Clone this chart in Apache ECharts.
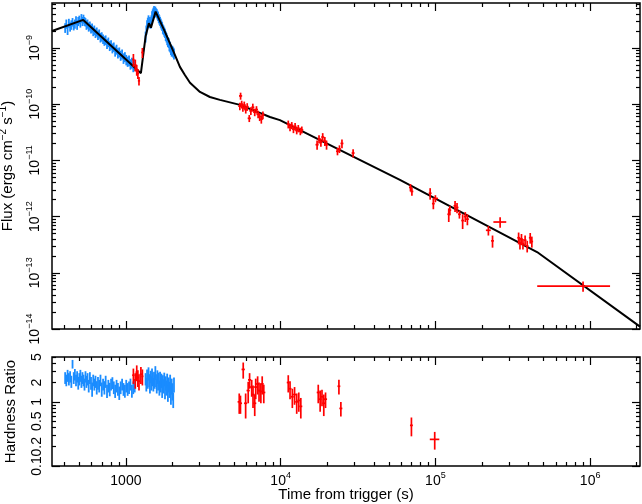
<!DOCTYPE html>
<html>
<head>
<meta charset="utf-8">
<script src="https://cdn.jsdelivr.net/npm/echarts@6/dist/echarts.min.js"></script>
<style>
  html, body { margin: 0; padding: 0; background: #fff; }
  #chart { width: 642px; height: 504px; }
</style>
</head>
<body>
<div id="chart"></div>
<script>
// light curve (top) + hardness ratio (bottom)
const FONT = 'Liberation Sans, Arial, Helvetica, sans-serif'
const BLUE = '#1a8cff'
const RED = '#ff0000'

const X_MIN = 333, X_MAX = 2.1e6
const FLUX_MIN = 1e-14, FLUX_MAX = 6.3e-9
const HR_MIN = 0.1, HR_MAX = 5

// ticks / labels
const X_MAJOR = [1e3, 1e4, 1e5, 1e6]
const X_DECADES = [100, 1e3, 1e4, 1e5, 1e6]
const FLUX_MAJOR = [1e-14, 1e-13, 1e-12, 1e-11, 1e-10, 1e-9]
const HR_MAJOR = [0.1, 1]
const HR_MINOR = [0.2, 0.3, 0.4, 0.5, 0.6, 0.7, 0.8, 0.9, 2, 3, 4, 5]
const HR_LABELS = [0.1, 0.2, 0.5, 1, 2, 5]
const MINOR_MULT = [2, 3, 4, 5, 6, 7, 8, 9]

// model (black line): time (s), flux (erg cm^-2 s^-1)
const MODEL_T = [333, 530, 1250, 1340, 1408, 1452, 1556, 1786, 2073, 2234, 2405, 2595, 3010, 3490, 4050, 5460, 8530, 9890, 59000, 454000, 2100000]
const MODEL_FLUX = [2.0e-9, 3.15e-9, 3.55e-10, 1.59e-9, 2.75e-9, 2.3e-9, 4.42e-9, 1.95e-9, 7.5e-10, 4.6e-10, 3.3e-10, 2.4e-10, 1.65e-10, 1.34e-10, 1.19e-10, 9.7e-11, 5.9e-11, 5.2e-11, 4.5e-12, 2.34e-13, 1.1e-14]

// WT mode (blue): time (s), flux and error in units of 1e-9, hardness ratio and error
const BLUE_T = [405, 412, 420, 428, 436, 444, 452, 460, 468, 476, 484, 492, 500, 508, 516, 524, 532, 540, 548, 556,
  565, 575, 585, 595, 605, 615, 625, 636, 648, 660, 672, 685, 698, 712, 726, 740, 755, 770, 786, 802,
  818, 835, 852, 870, 888, 906, 925, 945, 965, 985, 1005, 1026, 1048, 1070, 1093, 1116, 1140,
  1340, 1355, 1370, 1385, 1400, 1415, 1430, 1445, 1460, 1475, 1490, 1505, 1520, 1535, 1550, 1566, 1582, 1598, 1614, 1630,
  1646, 1663, 1680, 1697, 1715, 1733, 1751, 1770, 1789, 1808, 1828, 1848, 1868, 1889, 1910, 1932, 1954, 1976, 1999, 2022, 2045]
const BLUE_FLUX = [2.3, 2.7, 2.1, 2.8, 2.4, 2.6, 2.9, 2.5, 2.7, 3.1, 2.6, 3.0, 3.2, 2.8, 3.4, 3.0, 3.3, 3.0, 2.9, 2.6,
  2.7, 2.4, 2.5, 2.2, 2.3, 2.0, 2.1, 1.85, 1.95, 1.7, 1.8, 1.55, 1.6, 1.45, 1.35, 1.4, 1.2, 1.28, 1.1, 1.15,
  1.0, 1.05, 0.88, 0.95, 0.82, 0.85, 0.74, 0.78, 0.66, 0.7, 0.62, 0.58, 0.6, 0.52, 0.55, 0.47, 0.5,
  1.6, 2.1, 2.6, 2.9, 3.2, 2.8, 3.0, 2.7, 3.2, 3.8, 4.1, 4.4, 4.7, 4.3, 4.6, 4.3, 4.2, 3.9, 3.7, 3.4,
  3.2, 3.0, 2.8, 2.6, 2.45, 2.2, 2.1, 1.95, 1.85, 1.65, 1.55, 1.4, 1.3, 1.25, 1.1, 1.05, 0.95, 0.9, 0.9, 0.85, 0.8]
const BLUE_FLUX_ERR = [0.45, 0.5, 0.4, 0.5, 0.45, 0.5, 0.5, 0.45, 0.5, 0.55, 0.5, 0.55, 0.55, 0.5, 0.6, 0.55, 0.6, 0.55, 0.5, 0.5,
  0.5, 0.45, 0.45, 0.4, 0.42, 0.38, 0.4, 0.35, 0.36, 0.32, 0.33, 0.3, 0.3, 0.28, 0.26, 0.27, 0.24, 0.25, 0.22, 0.22,
  0.2, 0.2, 0.18, 0.19, 0.17, 0.17, 0.15, 0.16, 0.14, 0.14, 0.13, 0.12, 0.13, 0.11, 0.12, 0.1, 0.11,
  0.35, 0.4, 0.5, 0.55, 0.6, 0.55, 0.55, 0.5, 0.6, 0.7, 0.75, 0.8, 0.85, 0.8, 0.85, 0.8, 0.75, 0.7, 0.68, 0.62,
  0.6, 0.55, 0.52, 0.48, 0.45, 0.42, 0.4, 0.37, 0.35, 0.32, 0.3, 0.28, 0.26, 0.25, 0.23, 0.22, 0.2, 0.2, 0.19, 0.18, 0.18]
const BLUE_HR = [2.4, 2.2, 2.6, 2.3, 2.5, 2.1, 3.9, 2.4, 2.7, 2.2, 2.5, 2.0, 2.3, 2.6, 2.1, 2.4, 2.2, 1.9, 2.5, 2.1,
  2.3, 1.8, 2.4, 2.0, 1.6, 2.2, 1.9, 2.1, 1.7, 2.0, 1.8, 2.2, 1.6, 1.9, 1.7, 2.1, 1.5, 1.8, 1.6, 1.9,
  2.0, 1.7, 1.5, 1.8, 1.6, 1.4, 1.7, 1.9, 1.6, 1.5, 1.8, 1.6, 1.7, 1.9, 1.5, 1.7, 1.8,
  2.3, 1.9, 2.6, 2.1, 2.8, 2.2, 1.8, 2.5, 2.0, 2.7, 2.3, 1.9, 2.4, 2.1, 2.9, 2.2, 1.8, 2.5, 2.0, 2.3,
  1.7, 2.4, 1.9, 2.2, 1.6, 2.1, 1.8, 2.3, 1.5, 2.0, 1.7, 2.2, 1.4, 1.9, 1.6, 2.1, 1.3, 1.8, 1.5, 1.1, 1.9]
const BLUE_HR_ERR = [0.5, 0.45, 0.55, 0.5, 0.5, 0.45, 0.6, 0.5, 0.55, 0.45, 0.5, 0.45, 0.5, 0.55, 0.45, 0.5, 0.45, 0.4, 0.5, 0.45,
  0.5, 0.4, 0.5, 0.45, 0.4, 0.45, 0.4, 0.45, 0.4, 0.45, 0.4, 0.45, 0.4, 0.4, 0.4, 0.45, 0.35, 0.4, 0.38, 0.4,
  0.42, 0.38, 0.35, 0.4, 0.36, 0.33, 0.38, 0.4, 0.36, 0.34, 0.4, 0.36, 0.38, 0.4, 0.34, 0.38, 0.4,
  0.5, 0.45, 0.6, 0.5, 0.65, 0.5, 0.45, 0.55, 0.5, 0.6, 0.55, 0.45, 0.55, 0.5, 0.7, 0.5, 0.45, 0.6, 0.5, 0.55,
  0.45, 0.55, 0.5, 0.55, 0.45, 0.5, 0.45, 0.55, 0.4, 0.5, 0.45, 0.55, 0.4, 0.5, 0.45, 0.55, 0.4, 0.5, 0.45, 0.3, 0.5]

// PC mode (red): [time, time err, flux, flux err]
const RED_FLUX = [
  [1118, 20, 6.2e-10, 1.6e-10], [1150, 20, 5.0e-10, 1.2e-10], [1175, 20, 4.1e-10, 0.9e-10], [1195, 20, 3.5e-10, 0.7e-10],
  [1215, 20, 2.6e-10, 0.45e-10], [1278, 20, 8.3e-10, 1.7e-10],
  [5450, 130, 9.2e-11, 1.4e-11], [5510, 130, 1.4e-10, 2.0e-11], [5600, 130, 1.0e-10, 1.5e-11], [5700, 130, 8.6e-11, 1.3e-11],
  [5820, 140, 9.6e-11, 1.5e-11], [5950, 140, 8.0e-11, 1.2e-11], [6080, 140, 9.0e-11, 1.4e-11], [6270, 150, 5.6e-11, 0.8e-11],
  [6420, 150, 7.6e-11, 1.2e-11], [6610, 150, 8.8e-11, 1.4e-11], [6800, 160, 7.2e-11, 1.1e-11], [6980, 160, 8.0e-11, 1.2e-11],
  [7150, 170, 6.6e-11, 1.0e-11], [7320, 170, 6.0e-11, 1.0e-11], [7500, 170, 5.4e-11, 0.9e-11], [7680, 180, 6.4e-11, 1.0e-11],
  [11200, 250, 4.4e-11, 0.7e-11], [11500, 250, 3.9e-11, 0.6e-11], [11800, 260, 4.2e-11, 0.6e-11], [12100, 270, 3.6e-11, 0.55e-11],
  [12400, 280, 4.0e-11, 0.6e-11], [12700, 280, 3.4e-11, 0.5e-11], [13000, 290, 3.7e-11, 0.55e-11], [13400, 300, 3.3e-11, 0.5e-11],
  [13700, 300, 3.5e-11, 0.5e-11],
  [17200, 400, 1.9e-11, 0.35e-11], [17700, 400, 2.4e-11, 0.4e-11], [18200, 400, 2.1e-11, 0.35e-11], [18700, 420, 2.6e-11, 0.45e-11],
  [19300, 430, 2.2e-11, 0.4e-11], [19800, 450, 1.9e-11, 0.35e-11],
  [23300, 500, 1.45e-11, 0.22e-11], [24000, 500, 1.6e-11, 0.25e-11], [24900, 550, 2.0e-11, 0.35e-11], [29400, 650, 1.35e-11, 0.22e-11],
  [69000, 1500, 3.3e-12, 0.5e-12], [70500, 1500, 2.8e-12, 0.45e-12],
  [92500, 2000, 2.6e-12, 0.6e-12], [97000, 2000, 1.7e-12, 0.35e-12], [100000, 4000, 2.1e-12, 0.3e-12],
  [122000, 2500, 1.1e-12, 0.3e-12], [124000, 2500, 1.3e-12, 0.25e-12], [134000, 3000, 1.55e-12, 0.35e-12], [138000, 3000, 1.45e-12, 0.3e-12],
  [143000, 3000, 1.1e-12, 0.18e-12], [150000, 3000, 8.5e-13, 0.25e-12], [156000, 3500, 1.0e-12, 0.2e-12], [161000, 3500, 9.0e-13, 0.2e-12],
  [220000, 8000, 5.7e-13, 1.1e-13], [234000, 5000, 3.7e-13, 0.9e-13], [262000, 25000, 8.0e-13, 1.7e-13],
  [345000, 7000, 4.2e-13, 1.0e-13], [352000, 7000, 3.4e-13, 0.8e-13], [360000, 7000, 4.0e-13, 0.9e-13], [368000, 7000, 3.3e-13, 0.7e-13],
  [380000, 8000, 3.8e-13, 0.8e-13], [392000, 8000, 3.0e-13, 0.7e-13], [410000, 8000, 4.2e-13, 0.9e-13], [420000, 8000, 3.6e-13, 0.8e-13],
  [900000, 445000, 5.8e-14, 1.2e-14]
]

// PC mode (red): [time, time err, hardness ratio, err]
const RED_HR = [
  [1118, 20, 2.6, 0.7], [1150, 20, 2.2, 0.6], [1175, 20, 2.9, 0.8], [1195, 20, 2.4, 0.7], [1215, 20, 2.1, 0.6],
  [1250, 20, 2.7, 0.8], [1278, 20, 2.5, 0.7],
  [5400, 130, 1.0, 0.35], [5500, 130, 0.95, 0.3], [5730, 140, 3.2, 0.9], [5940, 140, 0.95, 0.4], [6170, 150, 1.5, 0.55],
  [6300, 150, 2.2, 0.6], [6500, 150, 1.7, 0.5], [6630, 160, 1.3, 0.5], [6800, 160, 0.95, 0.35], [6900, 160, 1.7, 0.6],
  [7100, 170, 1.9, 0.6], [7250, 170, 1.5, 0.5], [7450, 170, 1.45, 0.5], [7600, 180, 1.9, 0.6], [7780, 180, 1.4, 0.45],
  [11200, 250, 2.0, 0.6], [11500, 250, 1.6, 0.5], [11900, 260, 1.2, 0.4], [12300, 270, 1.3, 0.4], [12700, 280, 1.0, 0.35],
  [13100, 290, 1.05, 0.35], [13500, 300, 0.85, 0.3],
  [17500, 400, 1.4, 0.45], [18000, 400, 1.1, 0.4], [18500, 420, 1.2, 0.35], [19000, 430, 0.95, 0.35], [19500, 450, 1.1, 0.3],
  [23800, 500, 1.75, 0.45], [24500, 550, 0.79, 0.2],
  [70000, 1500, 0.43, 0.14], [99000, 7000, 0.26, 0.08]
]

const minorOf = (decades, lo, hi) => {
  const out = []
  decades.forEach(d => MINOR_MULT.forEach(m => {
    const v = d * m
    if (v > lo && v < hi) out.push(v)
  }))
  return out
}
const X_MINOR = minorOf(X_DECADES, X_MIN, X_MAX)
const FLUX_MINOR = minorOf(FLUX_MAJOR, FLUX_MIN, FLUX_MAX)

const supRich = size => ({ s: { fontSize: size, lineHeight: 10, verticalAlign: 'top', fontFamily: FONT, color: '#000' } })

function axis(gridIndex, position, min, max, ticks, len, extra) {
  return Object.assign({
    type: 'log',
    logBase: 10,
    gridIndex: gridIndex,
    position: position,
    min: min,
    max: max,
    axisLine: { show: false, onZero: false },
    splitLine: { show: false },
    axisTick: { show: true, inside: true, length: len, customValues: ticks, lineStyle: { color: '#000', width: 1.2 } },
    axisLabel: { show: false }
  }, extra || {})
}

const xLabel = {
  show: true,
  customValues: X_MAJOR,
  margin: 5,
  color: '#000',
  fontFamily: FONT,
  fontSize: 14,
  lineHeight: 20,
  formatter(v) {
    const e = Math.round(Math.log10(v))
    return e === 3 ? '1000' : '10{s|' + e + '}'
  },
  rich: supRich(9)
}

const xAxes = []
;[0, 1].forEach(g => {
  xAxes.push(axis(g, 'bottom', X_MIN, X_MAX, X_MAJOR, 8, g === 1 ? {
    axisLabel: xLabel,
    name: 'Time from trigger (s)',
    nameLocation: 'middle',
    nameGap: 21,
    nameMoveOverlap: false,
    nameTextStyle: { color: '#000', fontFamily: FONT, fontSize: 15 }
  } : {}))
  xAxes.push(axis(g, 'bottom', X_MIN, X_MAX, X_MINOR, 4))
  xAxes.push(axis(g, 'top', X_MIN, X_MAX, X_MAJOR, 8))
  xAxes.push(axis(g, 'top', X_MIN, X_MAX, X_MINOR, 4))
})

const yAxes = [
  axis(0, 'left', FLUX_MIN, FLUX_MAX, FLUX_MAJOR, 8, {
    axisLabel: {
      show: true,
      customValues: FLUX_MAJOR,
      rotate: 90,
      margin: 7,
      color: '#000',
      fontFamily: FONT,
      fontSize: 14,
      lineHeight: 20,
      formatter(v) { return '10{s|\u2212' + (-Math.round(Math.log10(v))) + '}' },
      rich: supRich(9)
    },
    name: 'Flux (ergs cm{s|\u22122} s{s|\u22121})',
    nameLocation: 'middle',
    nameRotate: 90,
    nameGap: 34,
    nameMoveOverlap: false,
    nameTextStyle: { color: '#000', fontFamily: FONT, fontSize: 15, lineHeight: 20, rich: supRich(10) }
  }),
  axis(0, 'left', FLUX_MIN, FLUX_MAX, FLUX_MINOR, 4),
  axis(0, 'right', FLUX_MIN, FLUX_MAX, FLUX_MAJOR, 8),
  axis(0, 'right', FLUX_MIN, FLUX_MAX, FLUX_MINOR, 4),
  axis(1, 'left', HR_MIN, HR_MAX, HR_MAJOR, 8, {
    axisLabel: {
      show: true,
      customValues: HR_LABELS,
      rotate: 90,
      margin: 8,
      color: '#000',
      fontFamily: FONT,
      fontSize: 14,
      formatter(v) { return String(parseFloat(v.toPrecision(2))) }
    },
    name: 'Hardness Ratio',
    nameLocation: 'middle',
    nameRotate: 90,
    nameGap: 34,
    nameMoveOverlap: false,
    nameTextStyle: { color: '#000', fontFamily: FONT, fontSize: 15 }
  }),
  axis(1, 'left', HR_MIN, HR_MAX, HR_MINOR, 4),
  axis(1, 'right', HR_MIN, HR_MAX, HR_MAJOR, 8),
  axis(1, 'right', HR_MIN, HR_MAX, HR_MINOR, 4)
]

// error bar cross drawn through the axes' own scales
function errorBars(color, width) {
  return function (params, api) {
    const t = api.value(0), dt = api.value(1), v = api.value(2), dv = api.value(3)
    const lo = v - dv > 0 ? v - dv : v * 0.05
    const a = api.coord([t, lo]), b = api.coord([t, v + dv])
    const style = { stroke: color, lineWidth: width }
    const children = [{ type: 'line', shape: { x1: a[0], y1: a[1], x2: b[0], y2: b[1] }, style: style }]
    if (dt > 0) {
      const c = api.coord([t - dt, v]), d = api.coord([t + dt, v])
      children.push({ type: 'line', shape: { x1: c[0], y1: c[1], x2: d[0], y2: d[1] }, style: style })
    }
    return { type: 'group', children: children }
  }
}

function barSeries(data, color, xi, yi, z, width) {
  return {
    type: 'custom',
    xAxisIndex: xi,
    yAxisIndex: yi,
    dimensions: ['t', 'dt', 'v', 'dv'],
    encode: { x: 0, y: 2 },
    data: data,
    renderItem: errorBars(color, width),
    clip: true,
    z: z,
    silent: true
  }
}

const blueFlux = BLUE_T.map((t, i) => [t, 0, BLUE_FLUX[i] * 1e-9, BLUE_FLUX_ERR[i] * 1e-9])
const blueHr = BLUE_T.map((t, i) => [t, 0, BLUE_HR[i], BLUE_HR_ERR[i]])

const chart = echarts.init(document.getElementById('chart'), null, { renderer: 'canvas' })
chart.setOption({
  animation: false,
  backgroundColor: '#fff',
  grid: [
    { left: 52, right: 2, top: 3, height: 326, show: true, borderColor: '#000', borderWidth: 1.5, outerBoundsMode: 'none', z: 10 },
    { left: 52, right: 2, top: 357, height: 109, show: true, borderColor: '#000', borderWidth: 1.5, outerBoundsMode: 'none', z: 10 }
  ],
  xAxis: xAxes,
  yAxis: yAxes,
  series: [
    barSeries(blueFlux, BLUE, 0, 0, 2, 1.8),
    {
      type: 'line',
      xAxisIndex: 0,
      yAxisIndex: 0,
      data: MODEL_T.map((t, i) => [t, MODEL_FLUX[i]]),
      symbol: 'none',
      lineStyle: { color: '#000', width: 2 },
      z: 3,
      silent: true
    },
    barSeries(RED_FLUX, RED, 0, 0, 4, 1.7),
    barSeries(blueHr, BLUE, 4, 4, 2, 1.8),
    barSeries(RED_HR, RED, 4, 4, 4, 1.7)
  ]
})
</script>
</body>
</html>
